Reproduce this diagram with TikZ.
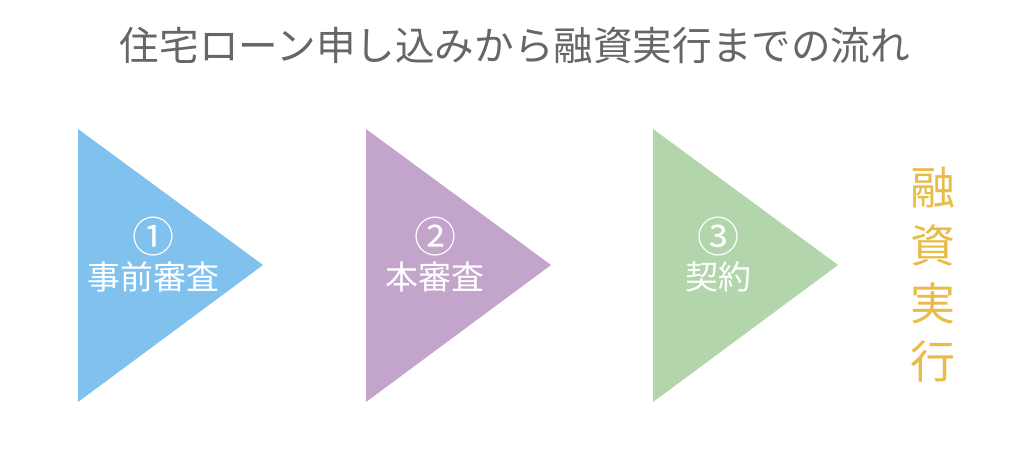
\documentclass[tikz,border=0pt]{standalone}
\usepackage{fontspec}
\setmainfont{Noto Sans CJK JP}
\definecolor{cblue}{HTML}{80C1EE}
\definecolor{cpurple}{HTML}{C3A5CC}
\definecolor{cgreen}{HTML}{B3D5AC}
\definecolor{cgold}{HTML}{E9BC48}
\definecolor{ctitle}{HTML}{666666}
\tikzset{
  lbl/.style={text=white, inner sep=0pt, font=\fontsize{33}{33}\selectfont},
  num/.style={text=white, inner sep=0pt, font=\fontsize{42}{42}\selectfont},
}
\begin{document}
\begin{tikzpicture}[x=1pt,y=-1pt]
\useasboundingbox (0,0) rectangle (1024,466);
\fill[white] (0,0) rectangle (1024,466);
\node[text=ctitle, inner sep=0pt, font=\fontsize{39.6}{40}\selectfont] (title) at (515,45) {住宅ローン申し込みから融資実行までの流れ};
\fill[cblue] (78,129) -- (263,265) -- (78,402) -- cycle;
\fill[cpurple] (366,129) -- (551,265) -- (366,402) -- cycle;
\fill[cgreen] (653,129) -- (838,265) -- (653,402) -- cycle;
\node[num] (n1) at (153,237) {①};
\node[lbl] (t1) at (153,277) {事前審査};
\node[num] (n2) at (435,237) {②};
\node[lbl] (t2) at (435,277) {本審査};
\node[num] (n3) at (718,237) {③};
\node[lbl] (t3) at (718,277) {契約};
\node[text=cgold, inner sep=0pt, align=center, font=\fontsize{45}{58}\selectfont] (exec) at (933,275) {融\\資\\実\\行};
\end{tikzpicture}
\end{document}
